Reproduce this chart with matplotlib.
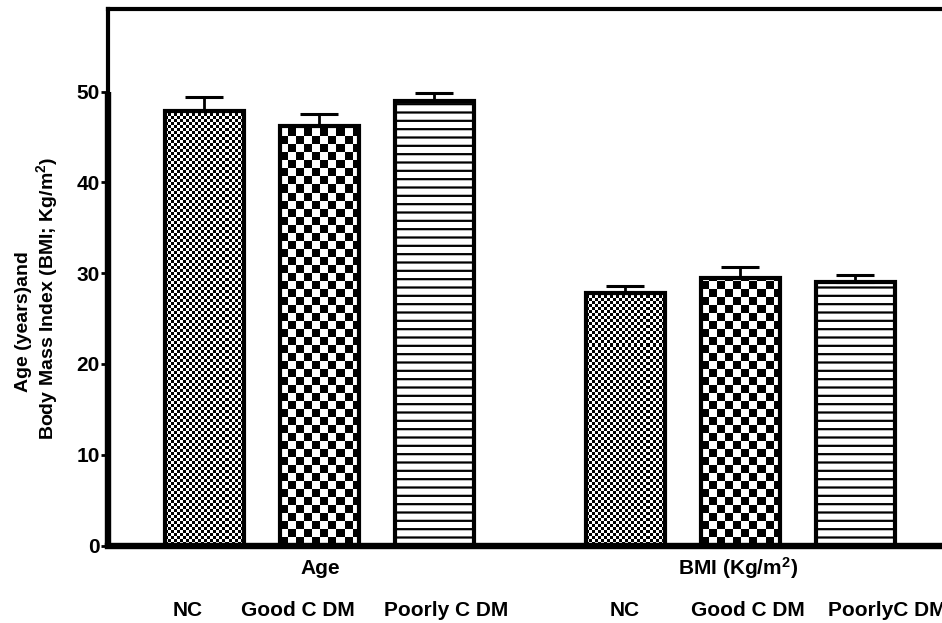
#!/usr/bin/env python3
import matplotlib
matplotlib.use('Agg')
import matplotlib.pyplot as plt
import numpy as np

plt.rcParams['font.family'] = ['Liberation Sans', 'DejaVu Sans']
plt.rcParams['font.weight'] = 'bold'
plt.rcParams['mathtext.fontset'] = 'custom'
plt.rcParams['mathtext.rm'] = 'Liberation Sans:bold'
plt.rcParams['mathtext.it'] = 'Liberation Sans:bold'
plt.rcParams['mathtext.bf'] = 'Liberation Sans:bold'
plt.rcParams['mathtext.default'] = 'rm'
plt.rcParams['hatch.linewidth'] = 1.6

groups = ['Age', 'BMI (Kg/m$^2$)']
cat_labels = ['NC', 'Good C DM', 'Poorly C DM', 'NC', 'Good C DM', 'PoorlyC DM']
means = [47.9, 46.2, 49.0, 27.8, 29.5, 29.0]
errs = [1.5, 1.3, 0.8, 0.8, 1.2, 0.8]
patterns = ['fine', 'coarse', 'lines', 'fine', 'coarse', 'lines']

W, H = 942, 623
fig = plt.figure(figsize=(W / 100, H / 100), dpi=100)
ax_l, ax_b, ax_t = 108, 545.5, 9
ax = fig.add_axes([ax_l / W, (H - ax_b) / H, 1 - ax_l / W, (ax_b - ax_t) / H])

px_x = 115.0                      # pixels per x unit
ymax = 59.1
px_y = (ax_b - ax_t) / ymax       # pixels per y unit
xmin = -0.839
xmax = xmin + (W - ax_l) / px_x

group_gap = 3.66
pos = [0, 1, 2, group_gap, group_gap + 1, group_gap + 2]
width = 0.69

# white base
ax.bar(pos, means, width=width, color='white', edgecolor='none', zorder=1)

cell_px = {'fine': 3.0, 'coarse': 8.0}
for p, m, pat in zip(pos, means, patterns):
    x0 = p - width / 2
    if pat == 'lines':
        ax.bar(p, m, width=width, color='white', edgecolor='black', lw=0,
               hatch='--', zorder=2)
        continue
    c = cell_px[pat]
    nx = int(np.ceil(width * px_x / c)) + 1
    ny = int(np.ceil(m * px_y / c)) + 1
    yy, xx = np.indices((ny, nx))
    board = (xx + yy) % 2
    im = ax.imshow(board, cmap='gray', interpolation='nearest', aspect='auto',
                   extent=[x0, x0 + nx * c / px_x, 0, ny * c / px_y],
                   origin='lower', zorder=2)
    rect = plt.Rectangle((x0, 0), width, m, transform=ax.transData)
    im.set_clip_path(rect)

ax.errorbar(pos, means, yerr=[np.zeros(len(errs)), errs], fmt='none',
            ecolor='black', elinewidth=2, capsize=14, capthick=2.2, zorder=3)
ax.bar(pos, means, width=width, facecolor='none', edgecolor='black',
       lw=3.0, zorder=4)

ax.set_xlim(xmin, xmax)
ax.set_ylim(0, ymax)

ax.spines['right'].set_visible(False)
ax.spines['top'].set_linewidth(3.0)
ax.spines['left'].set_linewidth(3.0)
ax.spines['bottom'].set_linewidth(4.6)
ax.axvline(xmin, ymin=0, ymax=50 / ymax, color='black', lw=4.6,
           clip_on=False, zorder=5, solid_capstyle='butt')

ax.set_xticks([])
ax.set_yticks([0, 10, 20, 30, 40, 50])
ax.tick_params(axis='y', direction='out', length=5, width=2, pad=1,
               labelsize=15)
for t in ax.get_yticklabels():
    t.set_fontweight('bold')

fig.text(24 / W, 1 - 322 / H, 'Age (years)and', rotation=90,
         ha='center', va='center', fontsize=14, fontweight='bold')
fig.text(47 / W, 1 - 298 / H, 'Body Mass Index (BMI; Kg/m$^{2}$)',
         rotation=90, ha='center', va='center', fontsize=14,
         fontweight='bold')

# group labels
for gx, g in zip([320, 738], groups):
    fig.text(gx / W, 1 - 568 / H, g, ha='center', va='center',
             fontsize=15, fontweight='bold')

# category labels
label_x = [187.5, 298, 446.5, 624.5, 747.5, 828]
label_ha = ['center'] * 5 + ['left']
for lx, lab, ha in zip(label_x, cat_labels, label_ha):
    fig.text(lx / W, 1 - 611 / H, lab, ha=ha, va='center',
             fontsize=15, fontweight='bold')

fig.savefig('out.png', dpi=100)
plt.close()
